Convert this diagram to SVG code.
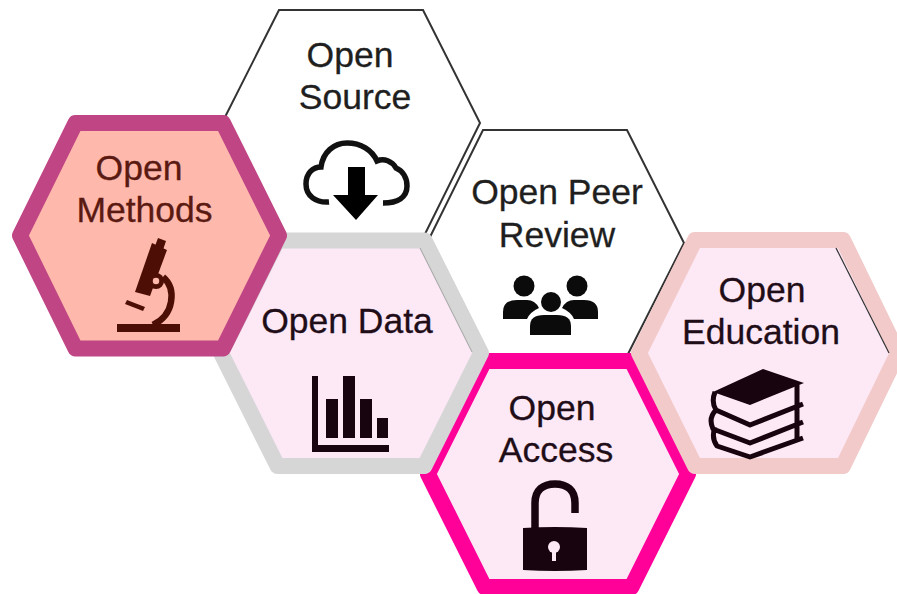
<svg xmlns="http://www.w3.org/2000/svg" width="897" height="594" viewBox="0 0 897 594">
<style>
text{font-family:"Liberation Sans",Arial,sans-serif;font-size:35.500px;text-anchor:middle;fill:#1f1f1f;stroke:#1f1f1f;stroke-width:.3}
.thin{fill:#fff;stroke:#333;stroke-width:2;stroke-linejoin:miter}
.thick{stroke-width:16;stroke-linejoin:round}
.pink{fill:#fde8f6}
.ink{fill:#17040f}
.line{fill:none;stroke:#17040f}
.dark text{fill:#1f0d18;stroke:#1f0d18}
.meth{fill:#5a1a12;stroke:#5a1a12}
</style>
<rect width="897" height="594" fill="#fff"/>
<g id="open-source">
<polygon class="thin" points="279,10 423,10 480,123 424,236 279,236 222,123"/>
<text x="350" y="67">Open</text>
<text x="355" y="109">Source</text>
<path d="M329 202C316 203 306 196 306 184C306 173 313 167 321 167C323 152 334 143 347 143C361 143 372 150 377 161C384 158 392 161 396 168C403 171 407 178 407 186C407 197 398 203 383 203" fill="none" stroke="#111" stroke-width="5.500"/>
<polygon points="348,167 365,167 365,195 378,195 356,220 333,195 348,195" fill="#000"/>
</g>
<g id="open-peer-review">
<polygon class="thin" points="483,130 627,130 684,243 627,356 483,356 427,243"/>
<text x="557" y="204">Open Peer</text>
<text x="557" y="247">Review</text>
<g fill="#0b0b0b">
<circle cx="524" cy="286" r="10.500"/>
<circle cx="577" cy="286" r="10.500"/>
<circle cx="551" cy="302" r="10"/>
<path d="M503 319V312Q503 300 517 300H527Q535 300 539 308Q530 312 527 319Z"/>
<path d="M598 319V312Q598 300 584 300H574Q566 300 562 308Q571 312 574 319Z"/>
<path d="M530 335V326Q530 315 544 315H557Q571 315 571 326V335Z"/>
</g>
</g>
<g id="open-access" class="dark">
<polygon class="thick pink" stroke="#ff0099" points="484.500,361 631.500,361 688,474 631.500,587 484.500,587 428,474"/>
<text x="552" y="420">Open</text>
<text x="556" y="462">Access</text>
<path class="line" stroke-width="7.500" d="M535 528V503C535 490 543 484 555 484C567 484 575 490 575 503V513"/>
<path class="ink" d="M523 528Q555 526 587 528V570Q555 572 523 570Z"/>
<circle cx="554" cy="547" r="6" fill="#fde8f6"/>
<rect x="552" y="548" width="4" height="13" fill="#fde8f6"/>
</g>
<g id="open-education" class="dark">
<polygon class="thick pink" stroke="#f2caca" points="695,240 843,240 898,353 843,466 695,466 639,353"/>
<line x1="836" y1="248" x2="889" y2="353" stroke="#333" stroke-width="1.200"/>
<text x="762" y="302">Open</text>
<text x="761" y="344">Education</text>
<polygon class="ink" points="713,392 763,369 804,383 750,405"/>
<path class="line" stroke-width="5" stroke-linejoin="round" d="M715 392Q711 402 716 410L750 425L803 404M797 385V440M716 410Q708 418 713 429L750 443L803 422M715 427Q711 438 717 446L750 457L803 438"/>
</g>
<g id="open-data" class="dark">
<polygon class="thick pink" stroke="#d6d6d6" points="277.500,240.500 424.500,240.500 481,353 424.500,466 277.500,466 221,353"/>
<line x1="420" y1="248" x2="472" y2="352" stroke="#999" stroke-width="0.800"/>
<text x="347" y="333">Open Data</text>
<g class="ink">
<path d="M312 376H318V445H389V452H312Z"/>
<rect x="326" y="399" width="12" height="39"/>
<rect x="343" y="376" width="12" height="62"/>
<rect x="360" y="399" width="12" height="39"/>
<rect x="377" y="418" width="11" height="20"/>
</g>
</g>
<g id="open-methods">
<polygon class="thick" fill="#ffb8ac" stroke="#c04585" points="75.500,123 223,123 279,235.500 223,348.500 75.500,348.500 20,235.500"/>
<text class="meth" x="139" y="180">Open</text>
<text class="meth" x="144.500" y="222">Methods</text>
<g fill="#4d0f05">
<polygon points="152,243 167,250 150,296 135,292"/>
<polygon points="158,238 166,241 163,250 155,246"/>
<rect x="117" y="324" width="63" height="8"/>
<polygon points="127,300 145,307 143,311 125,304"/>
</g>
<path d="M163 277C170 283 173 291 171 302C169 314 161 321 153 325" fill="none" stroke="#4d0f05" stroke-width="6.500"/>
<circle cx="156" cy="281" r="8" fill="#4d0f05"/>
<circle cx="156" cy="281" r="4" fill="#ffb8ac" stroke="#4d0f05" stroke-width="1.500"/>
</g>
</svg>
